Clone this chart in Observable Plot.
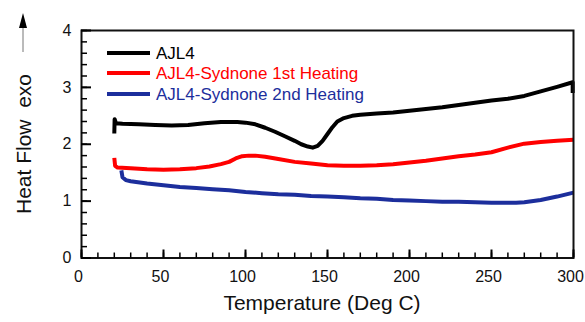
<!DOCTYPE html>
<html>
<head>
<meta charset="utf-8">
<script src="https://cdn.jsdelivr.net/npm/d3@7"></script>
<script src="https://cdn.jsdelivr.net/npm/@observablehq/plot@0.6"></script>
<style>
  body { margin: 0; background: #fff; }
  #wrap { position: relative; width: 585px; height: 322px; font-family: "Liberation Sans", Arial, sans-serif; }
  .ov { position: absolute; white-space: pre; line-height: 1; }
</style>
</head>
<body>
<div id="wrap"></div>
<script>
// ---- data ----
const seriesNames = ["AJL4", "AJL4-Sydnone 1st Heating", "AJL4-Sydnone 2nd Heating"];
const seriesColors = ["#000000", "#ff0000", "#1c2e9c"];

const ajl4T = [20, 20.2, 21, 25, 35, 45, 55, 65, 75, 85, 95, 100, 106, 112, 118, 124, 130, 134, 138, 141, 144, 147, 150, 153, 156, 160, 165, 170, 180, 190, 200, 210, 220, 230, 240, 250, 260, 270, 280, 290, 299.5, 299.5];
const ajl4V = [2.19, 2.44, 2.37, 2.36, 2.35, 2.34, 2.33, 2.34, 2.37, 2.39, 2.39, 2.38, 2.35, 2.29, 2.22, 2.14, 2.06, 2.00, 1.96, 1.94, 1.97, 2.06, 2.18, 2.30, 2.40, 2.46, 2.50, 2.52, 2.54, 2.56, 2.59, 2.62, 2.65, 2.69, 2.73, 2.77, 2.80, 2.85, 2.93, 3.01, 3.09, 2.90];

const syd1T = [20, 20.5, 22, 30, 40, 50, 60, 70, 78, 85, 90, 94, 98, 102, 106, 112, 120, 130, 140, 150, 160, 170, 180, 190, 200, 210, 220, 230, 240, 250, 260, 270, 280, 290, 300];
const syd1V = [1.76, 1.62, 1.59, 1.58, 1.56, 1.55, 1.56, 1.58, 1.61, 1.65, 1.69, 1.75, 1.79, 1.80, 1.80, 1.78, 1.74, 1.69, 1.66, 1.63, 1.62, 1.62, 1.63, 1.65, 1.68, 1.71, 1.75, 1.79, 1.82, 1.86, 1.94, 2.01, 2.04, 2.06, 2.08];

const syd2T = [24.3, 25, 27, 30, 40, 50, 60, 70, 80, 90, 100, 110, 120, 130, 140, 150, 160, 170, 180, 190, 200, 210, 220, 230, 240, 250, 260, 265, 270, 280, 290, 300];
const syd2V = [1.54, 1.42, 1.37, 1.35, 1.31, 1.28, 1.25, 1.23, 1.21, 1.19, 1.16, 1.14, 1.12, 1.11, 1.09, 1.08, 1.07, 1.05, 1.04, 1.02, 1.01, 1.00, 0.99, 0.99, 0.98, 0.97, 0.97, 0.97, 0.98, 1.02, 1.08, 1.15];

const xMajor = [0, 50, 100, 150, 200, 250, 300];
const xMinor = d3.range(0, 301, 10);
const yMajor = [0, 1, 2, 3, 4];
const yMinor = d3.range(0, 4.01, 0.2).map(v => +v.toFixed(1));

const xTitle = "Temperature (Deg C)";
const yTitle = "Heat Flow  exo";

// ---- build table ----
const rows = [];
[[ajl4T, ajl4V], [syd1T, syd1V], [syd2T, syd2V]].forEach(([T, V], i) => {
  T.forEach((t, j) => rows.push({series: seriesNames[i], t, v: V[j]}));
});

const font = '"Liberation Sans", Arial, sans-serif';
const W = 585, H = 322, mL = 81, mR = 12, mT = 30, mB = 64.5;
const innerW = W - mL - mR, innerH = H - mT - mB;

const chart = Plot.plot({
  width: W,
  height: H,
  marginLeft: mL,
  marginRight: mR,
  marginTop: mT,
  marginBottom: mB,
  style: {fontFamily: font, fontSize: "16px", color: "#111", background: "#fff"},
  x: {domain: [0, 300]},
  y: {domain: [0, 4]},
  color: {domain: seriesNames, range: seriesColors},
  marks: [
    Plot.axisX({anchor: "bottom", ticks: xMajor, tickSize: 0, tickPadding: 13, dx: -3, label: null, tickFormat: d3.format("d"), fontSize: 16}),
    Plot.axisY({anchor: "left", ticks: yMajor, tickSize: 0, tickPadding: 10, label: null, tickFormat: d3.format("d"), fontSize: 16}),
    Plot.line(rows, {x: "t", y: "v", z: "series", stroke: "series", strokeWidth: 4, strokeLinejoin: "round", strokeLinecap: "butt"}),
    Plot.frame({stroke: "#111", strokeWidth: 2}),
    // inward ticks along the bottom and left edges
    Plot.tickX(xMinor, {x: d => d, insetTop: innerH - 5, stroke: "#000", strokeWidth: 1.5}),
    Plot.tickX(xMajor, {x: d => d, insetTop: innerH - 8, stroke: "#000", strokeWidth: 2}),
    Plot.tickY(yMinor, {y: d => d, insetRight: innerW - 6, stroke: "#000", strokeWidth: 1.5}),
    Plot.tickY(yMajor, {y: d => d, insetRight: innerW - 10, stroke: "#000", strokeWidth: 2})
  ]
});

const wrap = document.getElementById("wrap");
wrap.appendChild(chart);

// overlays: axis titles, arrow, legend
const xt = document.createElement("div");
xt.className = "ov";
xt.textContent = xTitle;
xt.style.cssText += "left:322px;top:302px;font-size:21px;color:#111;transform:translate(-50%,-50%);";
wrap.appendChild(xt);

const yt = document.createElement("div");
yt.className = "ov";
yt.textContent = yTitle;
yt.style.cssText += "left:22.5px;top:144px;font-size:21px;color:#111;transform:translate(-50%,-50%) rotate(-90deg);";
wrap.appendChild(yt);

const ns = "http://www.w3.org/2000/svg";
const arr = document.createElementNS(ns, "svg");
arr.setAttribute("width", 20); arr.setAttribute("height", 60);
arr.style.cssText = "position:absolute;left:13px;top:0px;";
arr.innerHTML = '<line x1="10" y1="52" x2="10" y2="22" stroke="#777" stroke-width="1"/><path d="M10,13 L6,28 L14,28 Z" fill="#000"/>';
wrap.appendChild(arr);

const legY = [53.3, 73.3, 93.8];
seriesNames.forEach((name, i) => {
  const sw = document.createElement("div");
  sw.style.cssText = `position:absolute;left:107px;top:${legY[i] - 2}px;width:43px;height:4px;background:${seriesColors[i]};`;
  wrap.appendChild(sw);
  const tx = document.createElement("div");
  tx.className = "ov";
  tx.textContent = name;
  tx.style.cssText += `left:156px;top:${legY[i]}px;font-size:17px;color:${seriesColors[i]};transform:translateY(-50%);`;
  wrap.appendChild(tx);
});
</script>
</body>
</html>
